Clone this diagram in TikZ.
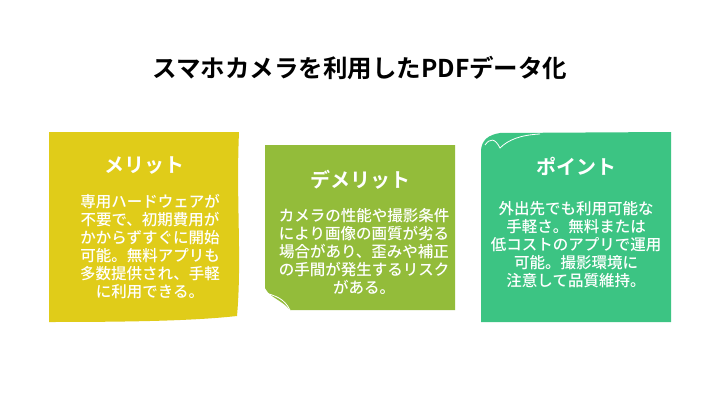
\documentclass[tikz,border=0pt]{standalone}
\usepackage{fontspec}
\setmainfont{Noto Sans CJK JP}[BoldFont={Noto Sans CJK JP Bold}]
\newfontfamily\medf{Noto Sans CJK JP Medium}
\definecolor{cy}{HTML}{E0CC19}
\definecolor{cg}{HTML}{93BC3A}
\definecolor{ct}{HTML}{3CC483}
\begin{document}
\begin{tikzpicture}[x=1pt,y=-1pt,
  ttl/.style={font=\bfseries\fontsize{20}{22}\selectfont,text=white},
  body/.style={font=\medf\fontsize{15.5}{18}\selectfont,text=white,align=center}]
\useasboundingbox (0,0) rectangle (720,420);
\fill[white] (0,0) rectangle (720,420);
\node[font=\bfseries\fontsize{24.5}{26}\selectfont] (title) at (360,68) {スマホカメラを利用したPDFデータ化};
% yellow
\fill[cy] (49,132) -- (239,132) .. controls (236,200) and (242,260) .. (237,316) .. controls (200,320) and (150,322) .. (49,322) -- cycle;
\node[ttl] (t1) at (144,166) {メリット};
\node[body] (b1) at (150,247) {専用ハードウェアが\\不要で、初期費用が\\かからずすぐに開始\\可能。無料アプリも\\多数提供され、手軽\\に利用できる。};
% green
\fill[cg] (265,145) -- (455,145) -- (455,310) -- (290,310) .. controls (282,300) and (270,298) .. (265,288) -- cycle;
\draw[white,line width=0.8pt] (290,310) .. controls (284,298) and (275,296) .. (266,293);
\node[ttl] (t2) at (360,180) {デメリット};
\node[body] (b2) at (364,251) {カメラの性能や撮影条件\\により画像の画質が劣る\\場合があり、歪みや補正\\の手間が発生するリスク\\がある。};
% teal
\fill[ct] (481,150) .. controls (482,140) and (488,135) .. (500,133) -- (671,132) -- (671,322) -- (481,322) -- cycle;
\draw[white,line width=0.8pt] (485,145) .. controls (490,138) and (495,138) .. (500,148) .. controls (508,140) and (520,135) .. (540,134);
\node[ttl] (t3) at (576,166) {ポイント};
\node[body] (b3) at (576,245) {外出先でも利用可能な\\手軽さ。無料または\\低コストのアプリで運用\\可能。撮影環境に\\注意して品質維持。};
\end{tikzpicture}
\end{document}
